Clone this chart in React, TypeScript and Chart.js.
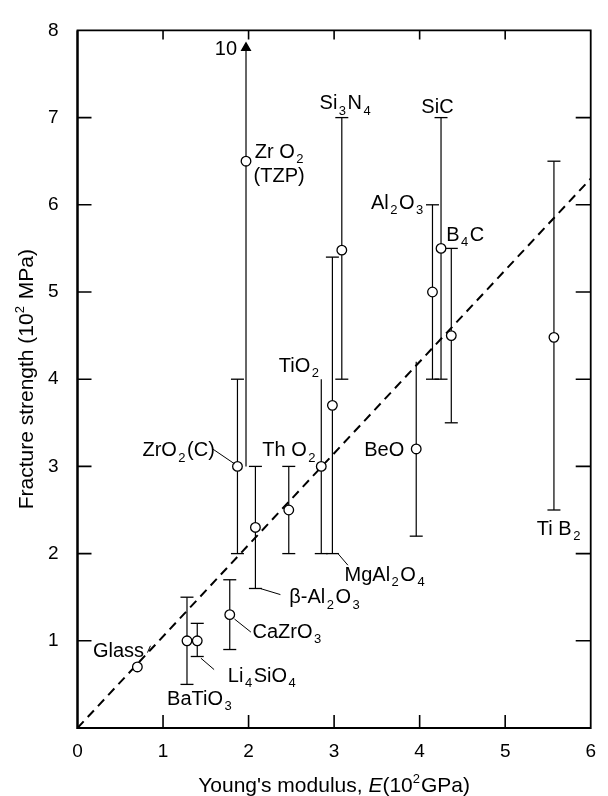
import React, { useEffect, useRef } from 'react';
import { Chart, registerables } from 'chart.js';

Chart.register(...registerables);

// ---------- data ----------
const materials = ['Glass', 'BaTiO3', 'Li4SiO4', 'CaZrO3', 'ZrO2(C)', 'ZrO2(TZP)', 'β-Al2O3', 'ThO2', 'TiO2', 'MgAl2O4', 'Si3N4', 'BeO', 'Al2O3', 'SiC', 'B4C', 'TiB2'];
// Young's modulus, E (10^2 GPa)
const modulus = [0.70, 1.28, 1.40, 1.78, 1.87, 1.97, 2.08, 2.47, 2.85, 2.98, 3.09, 3.96, 4.15, 4.25, 4.37, 5.57];
// Fracture strength (10^2 MPa)
const strength = [0.70, 1.00, 1.00, 1.30, 3.00, 6.50, 2.30, 2.50, 3.00, 3.70, 5.48, 3.20, 5.00, 5.50, 4.50, 4.48];
const strengthLow = [null, 0.50, 0.82, 0.90, 2.00, 3.00, 1.60, 2.00, 2.00, 2.00, 4.00, 2.20, 4.00, 4.00, 3.50, 2.50];
const strengthHigh = [null, 1.50, 1.20, 1.70, 4.00, 10.0, 3.00, 3.00, 4.00, 5.40, 7.00, 4.20, 6.00, 7.00, 5.50, 6.50];
const capLow = [false, true, true, true, true, false, true, true, true, true, true, true, true, true, true, true];
const capHigh = [false, true, true, true, true, false, true, true, false, true, true, false, true, true, true, true];

// dashed trend line
const trendX = [0, 6];
const trendY = [0, 6.3];

// axes
const xTickValues = [0, 1, 2, 3, 4, 5, 6];
const yTickValues = [0, 1, 2, 3, 4, 5, 6, 7, 8];
const xTitle = "Young's modulus, ~E(10^2GPa)";
const yTitle = 'Fracture strength (10^2 MPa)';

// text labels: rich text ("_" subscript, "^" superscript, "~" italic) placed in data coordinates
const labelTexts = ['10', 'Zr O_2', '(TZP)', 'Si_3N_4', 'SiC', 'Al_2O_3', 'B_4C', 'TiO_2', 'Th O_2', 'ZrO_2(C)', 'BeO', 'Ti B_2', 'MgAl_2O_4', 'β-Al_2O_3', 'CaZrO_3', 'Li_4SiO_4', 'BaTiO_3', 'Glass'];
const labelX = [1.605, 2.073, 2.058, 2.83, 4.02, 3.43, 4.31, 2.354, 2.161, 0.759, 3.352, 5.37, 3.122, 2.476, 2.046, 1.758, 1.047, 0.18];
const labelY = [7.80, 6.62, 6.34, 7.18, 7.13, 6.04, 5.67, 4.17, 3.20, 3.20, 3.20, 2.30, 1.774, 1.512, 1.119, 0.614, 0.351, 0.895];

// leader lines from labels to marks [x1, y1, x2, y2] in data coordinates
const leaders = [
  [1.585, 3.197, 1.835, 3.03],
  [3.045, 2.0, 3.161, 1.867],
  [2.142, 1.598, 2.372, 1.53],
  [1.835, 1.25, 2.027, 1.10],
  [1.443, 0.80, 1.597, 0.67],
  [0.853, 0.943, 0.818, 0.865],
];

const FONT = "'Liberation Sans', Arial, Helvetica, sans-serif";

type Seg = { t: string; k: string };
function parseRich(text: string): Seg[] {
  const segs: Seg[] = [];
  for (let i = 0; i < text.length; i++) {
    const c = text[i];
    if ((c === '_' || c === '^' || c === '~') && i + 1 < text.length) {
      segs.push({ t: text[i + 1], k: c });
      i++;
    } else {
      const last = segs[segs.length - 1];
      if (last && last.k === 'n') last.t += c;
      else segs.push({ t: c, k: 'n' });
    }
  }
  return segs;
}

function segFont(k: string, size: number) {
  if (k === '_') return `${Math.round(size * 0.66)}px ${FONT}`;
  if (k === '^') return `${Math.round(size * 0.6)}px ${FONT}`;
  if (k === '~') return `italic ${size}px ${FONT}`;
  return `${size}px ${FONT}`;
}

function richWidth(ctx: CanvasRenderingContext2D, segs: Seg[], size: number) {
  let w = 0;
  for (const s of segs) {
    ctx.font = segFont(s.k, size);
    w += ctx.measureText(s.t).width;
    if (s.k === '_') w += 3;
    if (s.k === '^') w += 1;
  }
  return w;
}

// draws rich text; (x, baseline) is left start unless align center
function drawRich(ctx: CanvasRenderingContext2D, text: string, x: number, baseline: number, size: number, align: string) {
  const segs = parseRich(text);
  const total = richWidth(ctx, segs, size);
  let cx = align === 'center' ? x - total / 2 : x;
  ctx.textBaseline = 'alphabetic';
  ctx.textAlign = 'left';
  for (const s of segs) {
    ctx.font = segFont(s.k, size);
    let dy = 0;
    if (s.k === '_') { cx += 1.5; dy = size * 0.27; }
    if (s.k === '^') { dy = -size * 0.42; }
    ctx.fillText(s.t, cx, baseline + dy);
    cx += ctx.measureText(s.t).width;
    if (s.k === '_') cx += 1.5;
    if (s.k === '^') cx += 1;
  }
}

const decorPlugin = {
  id: 'decor',
  afterDatasetsDraw(chart: any) {
    const ctx: CanvasRenderingContext2D = chart.ctx;
    const xs = chart.scales.x;
    const ys = chart.scales.y;
    const { left, right, top, bottom } = chart.chartArea;
    ctx.save();
    ctx.strokeStyle = '#000';
    ctx.fillStyle = '#000';
    ctx.lineCap = 'butt';

    // frame
    ctx.lineWidth = 1.8;
    ctx.beginPath();
    ctx.moveTo(left, top);
    ctx.lineTo(right, top);
    ctx.lineTo(right, bottom);
    ctx.lineTo(left, bottom);
    ctx.closePath();
    ctx.stroke();
    ctx.lineWidth = 2.2;
    ctx.beginPath();
    ctx.moveTo(left, top);
    ctx.lineTo(left, bottom);
    ctx.lineTo(right, bottom);
    ctx.stroke();

    // inward ticks
    ctx.lineWidth = 1.6;
    ctx.beginPath();
    for (const v of xTickValues) {
      if (v <= xs.min || v >= xs.max) continue;
      const px = xs.getPixelForValue(v);
      ctx.moveTo(px, bottom);
      ctx.lineTo(px, bottom - 13);
      ctx.moveTo(px, top);
      ctx.lineTo(px, top + 9);
    }
    for (const v of yTickValues) {
      if (v <= ys.min || v >= ys.max) continue;
      const py = ys.getPixelForValue(v);
      ctx.moveTo(left, py);
      ctx.lineTo(left + 14, py);
      ctx.moveTo(right, py);
      ctx.lineTo(right - 15, py);
    }
    ctx.stroke();

    // leader lines
    ctx.lineWidth = 1;
    ctx.beginPath();
    for (const l of leaders) {
      ctx.moveTo(xs.getPixelForValue(l[0]), ys.getPixelForValue(l[1]));
      ctx.lineTo(xs.getPixelForValue(l[2]), ys.getPixelForValue(l[3]));
    }
    ctx.stroke();

    // labels
    const size = 20;
    for (let i = 0; i < labelTexts.length; i++) {
      const px = xs.getPixelForValue(labelX[i]);
      const py = ys.getPixelForValue(labelY[i]);
      drawRich(ctx, labelTexts[i], px, py + size * 0.36, size, 'left');
    }

    // axis titles
    const tsize = 21;
    drawRich(ctx, xTitle, (left + right) / 2, 792, tsize, 'center');
    ctx.save();
    ctx.translate(33, (top + bottom) / 2);
    ctx.rotate(-Math.PI / 2);
    drawRich(ctx, yTitle, 0, 0, tsize, 'center');
    ctx.restore();

    ctx.restore();
  },
};

export default function App() {
  const ref = useRef<HTMLCanvasElement | null>(null);
  useEffect(() => {
    if (!ref.current) return;
    const yMax = 8;
    const pointData = modulus.map((x, i) => ({ x, y: strength[i] }));
    const barSets: any[] = [];
    for (let i = 0; i < materials.length; i++) {
      const lo = strengthLow[i];
      const hi = strengthHigh[i];
      if (lo === null || hi === null) continue;
      const over = hi > yMax;
      const hiShown = over ? yMax - 0.2 : hi;
      barSets.push({
        label: materials[i] + ' range',
        data: [{ x: modulus[i], y: lo }, { x: modulus[i], y: hiShown }],
        showLine: true,
        borderColor: '#000',
        borderWidth: 1.2,
        pointStyle: ['line', over ? 'triangle' : 'line'],
        pointRadius: [capLow[i] ? 6.5 : 0, over ? 5 : capHigh[i] ? 6.5 : 0],
        pointBorderWidth: 1.3,
        pointBorderColor: '#000',
        pointBackgroundColor: '#000',
        order: 1,
        clip: false,
      });
    }
    const chart = new Chart(ref.current, {
      type: 'scatter',
      data: {
        datasets: [
          {
            label: 'Fracture strength',
            data: pointData,
            pointStyle: 'circle',
            pointRadius: 4.8,
            pointBackgroundColor: '#fff',
            pointBorderColor: '#000',
            pointBorderWidth: 1.3,
            order: 0,
          },
          ...barSets,
          {
            label: 'trend',
            data: trendX.map((x, i) => ({ x, y: trendY[i] })),
            showLine: true,
            borderColor: '#000',
            borderWidth: 2,
            borderDash: [9, 6],
            pointRadius: 0,
            order: 2,
          },
        ],
      },
      options: {
        responsive: false,
        animation: false,
        devicePixelRatio: 1,
        layout: { padding: { left: 0, right: 10, top: 15.5, bottom: 0 } },
        plugins: { legend: { display: false }, tooltip: { enabled: false }, title: { display: false } },
        scales: {
          x: {
            type: 'linear',
            min: 0,
            max: 6,
            grid: { display: false, drawTicks: false },
            border: { display: false },
            ticks: { stepSize: 1, padding: 12, color: '#000', font: { size: 19, family: FONT } },
            afterFit: (s: any) => { s.height = 68; },
          },
          y: {
            type: 'linear',
            min: 0,
            max: 8,
            grid: { display: false, drawTicks: false },
            border: { display: false },
            ticks: {
              stepSize: 1,
              padding: 19,
              color: '#000',
              font: { size: 19, family: FONT },
              callback: (v: any) => (Number(v) === 0 ? '' : String(v)),
            },
            afterFit: (s: any) => { s.width = 77.5; },
          },
        },
      },
      plugins: [decorPlugin],
    } as any);
    return () => chart.destroy();
  }, []);
  return (
    <div style={{ position: 'absolute', left: 0, top: 0, width: 608, height: 796, background: '#fff' }}>
      <canvas ref={ref} width={608} height={796} style={{ display: 'block' }} />
    </div>
  );
}
